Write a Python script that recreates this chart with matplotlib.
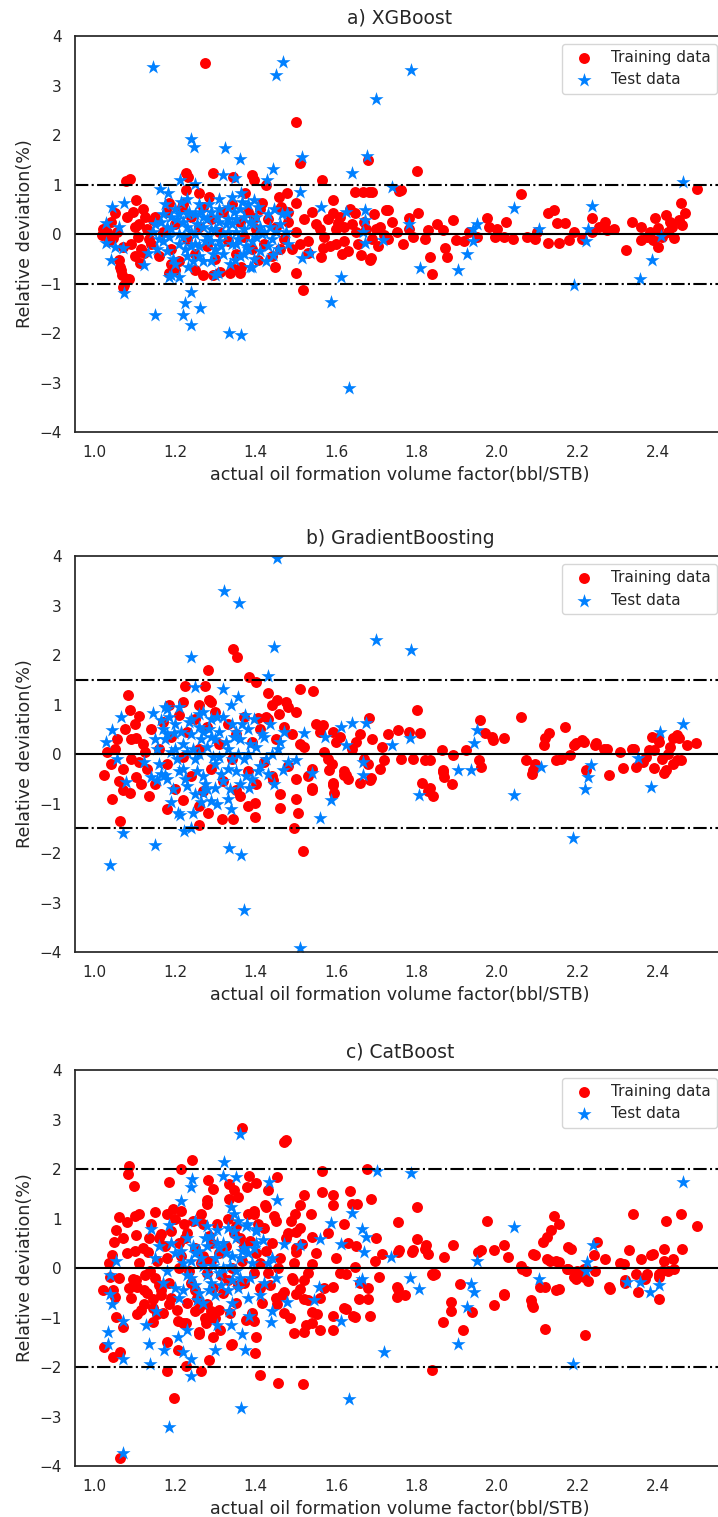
import matplotlib
matplotlib.use("Agg")
import matplotlib.pyplot as plt
import seaborn as sns

# ---------------------------------------------------------------- data
# (actual Bo, relative deviation %)
XGB_TRAIN = [
    (1.274, 3.45), (1.50, 2.27), (1.51, 1.43), (1.087, 1.11), (1.078, 1.08), (1.227, 1.23),
    (1.232, 1.15), (1.295, 1.23), (1.344, 1.15), (1.39, 1.19), (1.395, 1.09), (1.426, 0.99),
    (1.565, 1.1), (1.68, 1.49), (1.80, 1.28), (1.667, 0.85), (1.69, 0.85), (1.756, 0.88),
    (1.725, 0.49), (2.06, 0.8), (1.102, 0.69), (1.018, -0.02), (1.03, 0.05), (1.045, -0.08),
    (1.07, -0.26), (1.06, -0.53), (1.065, -0.73), (1.08, -0.9), (1.07, -1.06), (1.05, 0.42),
    (1.08, 0.35), (1.10, 0.15), (1.107, -0.05), (1.227, 0.89), (1.259, 0.82), (1.285, 0.75),
    (1.185, 0.62), (1.217, 0.55), (1.144, 0.28), (1.374, 0.82), (1.416, 0.62), (1.457, 0.75),
    (1.478, 0.82), (1.499, 0.62), (1.462, 0.55), (1.395, 0.32), (1.123, -0.39), (1.112, -0.59),
    (1.185, -0.79), (1.248, -0.73), (1.269, -0.83), (1.311, -0.76), (1.337, -0.79), (1.363, -0.66),
    (1.405, -0.53), (1.447, -0.66), (1.499, -0.79), (1.518, -1.13), (1.53, -0.39), (1.562, -0.46),
    (1.072, -1.03), (1.085, -0.9), (1.068, -0.83), (1.063, -0.67), (1.19, -0.6), (1.20, -0.73),
    (1.295, -0.83), (1.36, -0.79), (1.345, -0.7), (1.837, -0.81), (1.684, -0.52), (1.593, 0.69),
    (1.593, 0.42), (1.604, 0.22), (1.567, -0.29), (1.646, 0.86), (1.682, 0.86), (1.646, 0.42),
    (1.661, -0.42), (1.687, -0.49), (1.729, 0.48), (1.761, 0.89), (1.75, 0.05), (1.719, -0.02),
    (1.781, 0.32), (1.803, 0.42), (1.828, 0.08), (1.865, 0.08), (1.834, -0.46), (1.87, -0.29),
    (1.876, -0.46), (1.891, 0.28), (1.897, -0.12), (1.918, -0.15), (1.949, -0.05), (1.975, 0.32),
    (1.98, 0.15), (1.996, -0.05), (2.017, -0.05), (2.022, 0.25), (2.074, -0.05), (2.095, -0.09),
    (2.127, -0.19), (2.127, 0.42), (2.142, 0.48), (2.153, -0.19), (2.148, 0.22), (2.169, 0.22),
    (2.179, -0.12), (2.211, -0.09), (2.237, 0.32), (2.237, 0.05), (2.253, 0.15), (2.268, 0.25),
    (2.273, 0.08), (2.32, -0.32), (2.336, 0.25), (2.357, 0.15), (2.357, -0.12), (2.373, -0.05),
    (2.388, -0.12), (2.393, 0.32), (2.399, -0.26), (2.42, 0.38), (2.425, 0.05), (2.435, 0.15),
    (2.451, 0.28), (2.456, 0.62), (2.467, 0.42), (2.498, 0.92), (1.60, 0.1), (1.62, -0.15),
    (1.64, 0.2), (1.70, 0.1), (1.73, -0.1), (1.78, 0.1), (1.82, -0.1), (1.85, 0.2), (1.93, 0.05),
    (2.0, 0.1), (2.04, -0.1), (2.10, 0.05), (2.19, 0.05), (2.29, 0.1), (2.38, 0.05), (2.40, 0.12),
    (2.41, -0.05), (2.43, 0.25), (2.44, -0.08), (2.46, 0.18),
    (1.13, 0.1), (1.14, -0.2), (1.15, 0.35), (1.16, -0.45), (1.17, 0.05), (1.18, 0.45),
    (1.19, -0.3), (1.20, 0.2), (1.21, -0.55), (1.22, 0.6), (1.23, -0.1), (1.24, 0.35),
    (1.25, -0.4), (1.26, 0.15), (1.27, 0.55), (1.28, -0.25), (1.29, 0.3), (1.30, -0.5),
    (1.31, 0.05), (1.32, 0.45), (1.33, -0.15), (1.34, 0.6), (1.35, -0.4), (1.36, 0.25),
    (1.37, -0.05), (1.38, 0.45), (1.39, -0.3), (1.40, 0.1), (1.41, 0.5), (1.42, -0.2),
    (1.43, 0.3), (1.44, -0.45), (1.45, 0.15), (1.46, 0.5), (1.47, -0.1), (1.48, 0.25),
    (1.49, -0.3), (1.50, 0.05), (1.52, 0.3), (1.53, -0.15), (1.55, 0.2), (1.57, -0.05),
    (1.58, 0.3), (1.60, -0.2), (1.62, 0.15), (1.63, -0.35), (1.65, 0.05), (1.67, 0.25),
    (1.69, -0.1), (1.71, 0.15), (1.10, -0.45), (1.11, 0.2), (1.12, 0.5),
    (1.02, 0.1), (1.035, -0.15), (1.04, 0.25), (1.055, 0.05), (1.09, -0.2), (1.095, 0.45),
    (1.115, -0.3), (1.125, 0.35), (1.135, -0.1), (1.46, -0.3), (1.48, 0.45), (1.51, -0.2),
    (1.54, 0.45), (1.56, 0.1), (1.585, -0.25), (1.61, 0.35), (1.615, -0.4), (1.635, 0.5),
    (1.655, -0.2), (1.675, 0.1), (1.695, 0.4), (1.705, -0.25), (1.74, 0.25), (1.765, -0.2),
    (1.79, -0.05),
]
XGB_TEST = [
    (1.145, 3.38), (1.45, 3.21), (1.467, 3.47), (1.785, 3.31), (1.70, 2.73), (1.238, 1.93),
    (1.247, 1.76), (1.324, 1.73), (1.361, 1.51), (1.32, 1.19), (1.443, 1.31), (1.515, 1.55),
    (1.51, 0.85), (1.64, 1.24), (1.677, 1.58), (1.212, 1.09), (1.162, 0.92), (1.182, 0.82),
    (1.042, 0.55), (1.073, 0.62), (1.427, 1.09), (1.395, 0.69), (1.348, 1.13), (1.739, 0.96),
    (2.042, 0.52), (2.237, 0.57), (1.782, 0.2), (1.717, -0.11), (1.941, 0.11), (1.95, 0.2),
    (1.94, -0.13), (1.926, -0.4), (2.105, 0.11), (2.227, 0.11), (2.22, -0.14), (2.407, -0.04),
    (2.461, 1.06), (2.385, -0.52), (1.808, -0.69), (1.902, -0.73), (1.612, -0.87), (1.586, -1.37),
    (1.631, -3.12), (2.19, -1.03), (2.354, -0.9), (1.04, -0.52), (1.072, -1.2), (1.123, -0.63),
    (1.149, -1.64), (1.22, -1.64), (1.225, -1.4), (1.24, -1.17), (1.24, -1.84), (1.262, -1.5),
    (1.333, -1.99), (1.364, -2.04), (1.19, -0.83), (1.21, -0.86), (1.30, -0.82), (1.385, -0.67),
    (1.028, 0.22), (1.06, 0.15), (1.028, -0.19), (1.05, -0.26), (1.07, -0.29), (1.248, 1.02),
    (1.562, 0.55), (1.625, 0.45), (1.672, 0.48), (1.672, 0.28), (1.478, 0.42), (1.342, 0.75),
    (1.363, 0.82), (1.672, -0.19), (1.667, 0.05), (1.515, -0.49), (1.536, -0.39), (1.442, -0.42),
    (1.39, -0.66), (1.348, -0.53), (1.306, -0.79), (1.233, -0.66), (1.185, -0.86), (1.133, -0.39),
    (1.15, 0.2), (1.16, -0.1), (1.17, 0.4), (1.18, -0.35), (1.19, 0.1), (1.20, 0.5),
    (1.21, -0.2), (1.22, 0.25), (1.23, -0.45), (1.24, 0.05), (1.25, 0.4), (1.26, -0.25),
    (1.27, 0.15), (1.28, -0.05), (1.29, 0.45), (1.30, -0.3), (1.31, 0.25), (1.32, 0.0),
    (1.33, 0.55), (1.34, -0.2), (1.35, 0.3), (1.36, -0.45), (1.37, 0.1), (1.38, 0.6),
    (1.39, -0.15), (1.40, 0.35), (1.41, -0.35), (1.42, 0.05), (1.43, 0.4), (1.44, -0.1),
    (1.46, 0.2), (1.48, -0.2), (1.22, -0.05), (1.26, 0.6), (1.28, 0.3), (1.30, 0.1),
    (1.32, -0.4), (1.34, 0.2), (1.24, -0.25), (1.36, 0.5), (1.20, -0.6), (1.18, 0.15),
    (1.27, -0.55), (1.33, 0.3), (1.38, -0.3), (1.25, 0.0), (1.29, -0.15), (1.35, 0.05),
    (1.41, 0.15), (1.19, 0.35), (1.21, 0.0), (1.23, 0.15), (1.25, -0.2), (1.27, 0.35),
    (1.29, 0.1), (1.31, -0.15), (1.33, 0.05), (1.35, -0.2), (1.37, 0.35), (1.39, 0.2),
    (1.17, -0.15), (1.43, -0.25), (1.45, 0.05), (1.23, 0.4), (1.31, 0.5), (1.26, -0.45),
    (1.145, 0.05), (1.155, -0.3), (1.165, 0.25), (1.175, 0.6), (1.185, -0.05), (1.195, -0.5),
    (1.205, 0.3), (1.215, 0.65), (1.225, -0.3), (1.235, 0.45), (1.245, -0.55), (1.255, 0.2),
    (1.265, 0.45), (1.275, -0.15), (1.285, 0.6), (1.295, -0.4), (1.305, 0.35), (1.315, -0.25),
    (1.325, 0.2), (1.335, -0.6), (1.345, 0.45), (1.355, -0.1), (1.365, 0.65), (1.375, -0.25),
    (1.385, 0.25), (1.395, -0.5), (1.405, 0.55), (1.415, 0.0), (1.425, -0.55), (1.435, 0.15),
    (1.445, 0.5), (1.455, -0.3), (1.465, 0.4), (1.475, 0.05), (1.21, 0.4), (1.29, -0.55),
    (1.37, -0.4), (1.23, 0.7), (1.31, 0.7), (1.40, -0.05),
]

GB_TRAIN = [
    (1.344, 2.13), (1.353, 1.97), (1.282, 1.70), (1.384, 1.56), (1.401, 1.46), (1.225, 1.37),
    (1.274, 1.37), (1.43, 1.23), (1.51, 1.31), (1.543, 1.28), (1.453, 1.09), (1.475, 1.06),
    (1.083, 1.19), (1.088, 0.89), (1.111, 0.77), (1.185, 0.99), (1.288, 1.06), (1.80, 0.90),
    (2.059, 0.75), (1.957, 0.69), (2.17, 0.55), (2.13, 0.42), (2.118, 0.32), (2.016, 0.32),
    (1.987, 0.35), (1.97, 0.42), (2.21, 0.28), (2.192, 0.18), (2.243, 0.18), (2.266, 0.11),
    (2.306, 0.05), (2.335, 0.11), (2.386, 0.35), (2.403, 0.25), (2.437, 0.32), (2.446, 0.38),
    (2.494, 0.22), (2.391, 0.08), (2.425, 0.01), (2.448, -0.12), (2.37, -0.05), (1.754, 0.48),
    (1.822, -0.12), (1.862, 0.08), (1.89, -0.02), (2.073, -0.12), (2.147, -0.12), (2.18, -0.02),
    (2.09, -0.32), (2.277, -0.42), (2.312, -0.29), (2.221, -0.32), (1.024, -0.42), (1.043, -0.9),
    (1.062, -1.35), (1.071, -0.73), (1.088, -0.79), (1.103, -0.46), (1.18, -1.1), (1.22, -0.93),
    (1.259, -1.43), (1.282, -1.2), (1.316, -1.32), (1.344, -1.32), (1.352, -0.73), (1.398, -0.98),
    (1.399, -1.27), (1.46, -1.08), (1.495, -1.5), (1.506, -1.2), (1.517, -1.95), (1.541, -0.73),
    (1.591, -0.63), (1.595, -0.78), (1.62, -0.42), (1.66, -0.59), (1.683, -0.53), (1.813, -0.58),
    (1.828, -0.74), (1.84, -0.85), (1.865, -0.36), (1.868, -0.46), (1.888, -0.61), (1.959, -0.26),
    (2.086, -0.4), (2.344, -0.26), (2.414, -0.38), (2.391, -0.29), (2.437, -0.19), (1.102, 0.32),
    (1.259, 0.99), (1.285, 1.09), (1.499, 0.86), (1.457, 0.82), (1.426, 0.75), (1.405, 0.72),
    (1.567, 0.59), (1.593, 0.45), (1.682, 0.72), (1.781, 0.45), (1.808, 0.42), (1.713, 0.15),
    (1.719, -0.12), (1.761, -0.09), (1.792, -0.09), (1.834, -0.12), (1.923, 0.08), (1.954, -0.12),
    (1.991, 0.28), (2.116, 0.18), (2.158, -0.09), (2.195, 0.22), (2.216, 0.25), (2.247, 0.22),
    (2.273, 0.11), (2.341, 0.11), (2.362, -0.15), (2.378, 0.08), (2.399, 0.32), (2.42, -0.32),
    (2.43, 0.15), (2.451, 0.32), (2.456, -0.12), (2.472, 0.18), (2.409, -0.09), (1.834, -0.69),
    (1.865, -0.32), (2.095, -0.19), (1.541, -0.69), (1.593, -0.59), (1.625, -0.42), (1.687, -0.49),
    (1.583, -0.32), (1.442, -0.53),
    (1.12, 0.2), (1.13, -0.3), (1.14, 0.5), (1.15, -0.6), (1.16, 0.1), (1.17, 0.65),
    (1.18, -0.2), (1.19, 0.35), (1.20, -0.7), (1.21, 0.8), (1.22, -0.05), (1.23, 0.45),
    (1.24, -0.45), (1.25, 0.7), (1.26, 0.1), (1.27, -0.75), (1.28, 0.55), (1.29, -0.3),
    (1.30, 0.85), (1.31, 0.2), (1.32, -0.55), (1.33, 0.6), (1.34, -0.1), (1.35, 0.4),
    (1.36, -0.85), (1.37, 0.75), (1.38, -0.35), (1.39, 0.25), (1.40, -0.6), (1.41, 0.5),
    (1.42, -0.15), (1.43, 0.7), (1.44, -0.45), (1.45, 0.3), (1.46, -0.8), (1.47, 0.55),
    (1.48, -0.25), (1.49, 0.4), (1.50, -0.5), (1.52, 0.15), (1.54, -0.3), (1.56, 0.45),
    (1.58, -0.1), (1.60, 0.25), (1.62, -0.35), (1.64, 0.1), (1.66, 0.4), (1.68, -0.2),
    (1.05, 0.1), (1.07, -0.3), (1.09, 0.3), (1.11, -0.15),
    (1.03, 0.05), (1.04, -0.2), (1.055, 0.3), (1.06, -0.55), (1.075, 0.5), (1.09, -0.1),
    (1.10, 0.6), (1.115, -0.6), (1.125, 0.05), (1.135, -0.85), (1.51, 0.2), (1.53, -0.45),
    (1.55, 0.6), (1.57, 0.05), (1.59, -0.2), (1.61, 0.35), (1.63, -0.5), (1.65, 0.25),
    (1.67, -0.1), (1.69, 0.3), (1.71, -0.3), (1.73, 0.4), (1.50, -0.9), (1.48, 0.95),
    (1.44, 1.0), (1.38, -1.05), (1.26, -1.05), (1.22, 1.05),
]
GB_TEST = [
    (1.453, 3.97), (1.322, 3.30), (1.359, 3.06), (1.445, 2.17), (1.24, 1.97), (1.70, 2.30),
    (1.786, 2.10), (1.43, 1.58), (1.248, 1.36), (1.32, 1.31), (1.356, 1.16), (1.339, 0.99),
    (1.145, 0.84), (1.18, 0.92), (1.066, 0.75), (1.043, 0.48), (2.462, 0.61), (2.405, 0.44),
    (1.64, 0.63), (1.675, 0.62), (1.612, 0.54), (1.783, 0.32), (1.74, 0.18), (1.95, 0.48),
    (1.942, 0.22), (2.351, -0.07), (1.037, -2.24), (1.071, -1.59), (1.149, -1.84), (1.208, -1.2),
    (1.222, -1.55), (1.24, -1.5), (1.333, -1.89), (1.364, -2.03), (1.37, -3.16), (1.51, -3.91),
    (1.56, -1.3), (1.586, -0.93), (1.806, -0.83), (2.041, -0.83), (2.189, -1.7), (2.218, -0.71),
    (2.226, -0.46), (2.234, -0.22), (2.382, -0.66), (1.902, -0.32), (1.936, -0.32), (2.109, -0.26),
    (1.305, -1.0), (1.339, -1.1), (1.265, -0.96), (1.299, -0.69), (1.384, -0.69), (1.174, -0.42),
    (1.14, -0.46), (1.077, -0.56), (1.029, 0.25), (1.055, -0.09), (1.165, 0.69), (1.175, 0.96),
    (1.374, 0.79), (1.259, 0.82), (1.196, 0.42), (1.52, 0.42), (1.572, 0.35), (1.625, 0.18),
    (1.667, -0.15), (1.667, -0.42), (1.243, -1.2), (1.211, -1.23), (1.154, -0.53), (1.123, -0.15),
    (1.468, -0.32), (1.50, -0.12), (1.541, -0.39), (1.19, -0.96), (1.269, -0.79),
    (1.15, 0.3), (1.16, -0.2), (1.17, 0.5), (1.18, -0.5), (1.19, 0.05), (1.20, 0.6),
    (1.21, -0.35), (1.22, 0.2), (1.23, -0.65), (1.24, 0.4), (1.25, -0.1), (1.26, 0.55),
    (1.27, -0.45), (1.28, 0.15), (1.29, 0.7), (1.30, -0.2), (1.31, 0.45), (1.32, -0.55),
    (1.33, 0.1), (1.34, 0.6), (1.35, -0.35), (1.36, 0.3), (1.37, -0.1), (1.38, 0.5),
    (1.39, -0.5), (1.40, 0.15), (1.41, -0.25), (1.42, 0.35), (1.44, 0.0), (1.46, 0.25),
    (1.48, -0.15), (1.22, -0.3), (1.26, 0.0), (1.30, 0.3), (1.34, -0.1), (1.28, -0.7),
    (1.32, 0.75), (1.24, 0.7), (1.36, -0.6), (1.20, 0.1), (1.25, -0.8), (1.29, 0.35),
    (1.33, -0.3), (1.27, 0.45), (1.38, 0.0), (1.31, -0.05), (1.35, 0.45), (1.23, 0.05),
    (1.18, 0.4), (1.43, -0.4),
    (1.155, 0.1), (1.165, -0.4), (1.175, 0.3), (1.185, 0.75), (1.195, -0.7), (1.205, -0.1),
    (1.215, 0.45), (1.225, -0.5), (1.235, 0.65), (1.245, 0.1), (1.255, -0.35), (1.265, 0.3),
    (1.275, -0.6), (1.285, 0.5), (1.295, -0.05), (1.305, 0.75), (1.315, -0.4), (1.325, 0.25),
    (1.335, -0.7), (1.345, 0.35), (1.355, 0.0), (1.365, 0.6), (1.375, -0.45), (1.385, 0.2),
    (1.395, 0.7), (1.405, -0.35), (1.415, 0.4), (1.425, -0.1), (1.435, 0.6), (1.445, -0.6),
    (1.455, 0.1), (1.47, 0.45), (1.21, 0.95), (1.27, 0.85), (1.33, -0.9), (1.29, -0.95),
]

CAT_TRAIN = [
    (1.365, 2.83), (1.47, 2.55), (1.475, 2.59), (1.242, 2.19), (1.214, 2.01), (1.086, 2.07),
    (1.083, 1.91), (1.098, 1.66), (1.185, 1.74), (1.282, 1.77), (1.293, 1.6), (1.384, 1.87),
    (1.401, 1.72), (1.453, 1.84), (1.43, 1.57), (1.566, 1.96), (1.677, 2.01), (1.521, 1.47),
    (1.566, 1.54), (1.592, 1.47), (1.635, 1.56), (1.686, 1.4), (1.592, 1.27), (1.64, 1.29),
    (1.80, 1.23), (1.754, 0.94), (1.51, 1.27), (1.538, 1.1), (1.498, 1.1), (1.06, 1.03),
    (1.054, 0.76), (1.049, 0.53), (1.10, 1.06), (1.111, 1.1), (1.103, 0.66), (1.15, 1.13),
    (1.18, 1.1), (1.214, 1.16), (1.28, 1.37), (1.333, 1.7), (1.333, 1.4), (1.345, 1.57),
    (1.356, 1.43), (1.424, 1.27), (1.396, 1.16), (1.265, 1.1), (1.976, 0.96), (2.141, 1.06),
    (2.155, 0.9), (2.135, 0.76), (2.124, 0.63), (2.113, 0.53), (2.09, 0.29), (2.337, 1.1),
    (2.42, 0.96), (2.457, 1.1), (2.496, 0.85), (2.459, 0.39), (2.416, 0.39), (2.329, 0.36),
    (2.382, 0.26), (2.357, 0.19), (2.414, 0.15), (2.437, 0.19), (2.306, 0.1), (2.175, 0.42),
    (2.146, 0.15), (2.124, 0.19), (2.198, -0.05), (2.269, 0.19), (2.249, 0.53), (1.993, 0.36),
    (2.018, 0.46), (1.953, 0.32), (1.891, 0.46), (1.868, 0.22), (1.822, 0.39), (1.80, 0.59),
    (1.788, 0.32), (1.828, 0.29), (1.754, 0.32), (1.714, 0.29), (1.697, 0.15), (1.845, -0.11),
    (2.027, 0.22), (2.061, -0.01), (2.073, -0.05), (2.175, -0.01), (2.215, -0.18), (2.243, -0.05),
    (2.278, -0.38), (2.317, -0.25), (2.346, -0.11), (2.403, -0.11), (2.425, -0.05),
    (1.062, -3.83), (1.196, -2.62), (1.18, -2.07), (1.228, -1.97), (1.263, -2.07), (1.284, -1.85),
    (1.41, -2.17), (1.456, -2.32), (1.517, -2.35), (1.837, -2.05), (2.218, -1.36), (2.12, -1.23),
    (1.866, -1.09), (1.885, -0.69), (1.885, -0.86), (1.916, -1.26), (1.938, -0.89), (1.993, -0.75),
    (2.016, -0.52), (2.084, -0.65), (2.086, -0.75), (2.118, -0.38), (2.146, -0.44), (2.192, -0.18),
    (2.226, -0.26), (2.28, -0.42), (2.317, -0.3), (2.351, -0.48), (2.368, -0.22), (2.403, -0.62),
    (2.403, -0.18), (1.908, -0.32), (1.84, -0.15), (1.754, -0.42), (1.771, -0.55), (1.752, -0.59),
    (1.706, -0.18), (1.68, -0.62), (1.657, -0.62), (1.684, -0.96), (1.643, -0.96), (1.62, -0.8),
    (1.592, -0.96), (1.591, -1.26), (1.561, -1.26), (1.541, -0.89), (1.521, -1.29), (1.496, -1.31),
    (1.524, -1.15), (1.399, -1.72), (1.401, -1.39), (1.396, -1.06), (1.339, -1.56), (1.293, -1.39),
    (1.276, -1.12), (1.259, -1.29), (1.29, -0.86), (1.208, -1.06), (1.18, -1.5), (1.206, -1.65),
    (1.145, -1.09), (1.105, -0.92), (1.071, -1.19), (1.054, -0.99), (1.046, -1.8), (1.062, -1.7),
    (1.024, -1.6), (1.02, -0.45), (1.094, -0.22), (1.105, -0.38), (1.145, -0.62), (1.122, -0.45),
    (1.453, -0.72), (1.47, -0.48), (1.493, -0.25), (1.521, -0.62), (1.51, -0.42),
    (1.081, 0.93), (1.044, 0.26), (1.039, -0.18), (1.05, -0.59), (1.164, 0.69), (1.222, 0.9),
    (1.28, 1.3), (1.379, 1.64), (1.426, 1.23), (1.395, 1.1), (1.133, 0.32), (1.138, -0.05),
    (1.102, -0.25), (1.164, -0.45), (1.185, -0.72), (1.227, -1.12), (1.248, -0.86), (1.28, -0.72),
    (1.29, -0.99), (1.259, -1.33), (1.311, -1.26), (1.342, -1.53), (1.154, -0.92), (1.123, -0.72),
    (1.489, 0.96), (1.499, 0.73), (1.515, 0.49), (1.541, 0.63), (1.651, 1.3), (1.499, 0.32),
    (1.541, 0.09), (1.52, -0.25), (1.499, -0.52), (1.531, -0.65), (1.552, -0.92), (1.541, -1.12),
    (1.625, -0.82), (1.646, -0.99), (1.593, -0.38), (1.625, -0.11), (1.646, 0.02), (1.755, 0.36),
    (1.792, 0.36), (1.823, 0.46), (1.839, -0.11), (1.75, -0.38), (1.959, 0.36), (2.017, -0.55),
    (2.09, -0.79), (2.059, 0.05), (2.106, -0.38), (2.095, 0.26), (2.132, 0.15), (2.153, 0.12),
    (2.174, -0.01), (2.184, 0.39), (2.153, -0.42), (2.195, -0.22), (2.216, -0.01), (2.242, 0.26),
    (2.315, 0.09), (2.388, 0.29), (2.44, -0.01), (2.41, -0.05), (2.372, -0.11),
    (1.12, 0.4), (1.13, -0.5), (1.14, 0.9), (1.15, -0.2), (1.16, 0.6), (1.17, -0.9),
    (1.18, 0.2), (1.19, -0.6), (1.20, 1.0), (1.21, 0.0), (1.22, -1.1), (1.23, 0.7),
    (1.24, -0.3), (1.25, 0.4), (1.26, -0.8), (1.27, 0.9), (1.28, -0.1), (1.29, 0.5),
    (1.30, -1.0), (1.31, 0.3), (1.32, -0.5), (1.33, 1.0), (1.34, 0.0), (1.35, -0.7),
    (1.36, 0.6), (1.37, -0.3), (1.38, 1.1), (1.39, -0.9), (1.40, 0.3), (1.41, -0.4),
    (1.42, 0.8), (1.43, -0.1), (1.44, 0.5), (1.45, -0.6), (1.46, 0.2), (1.47, -0.9),
    (1.48, 0.7), (1.49, -0.2), (1.50, 0.4), (1.21, 0.5), (1.25, -0.45), (1.29, 0.15),
    (1.33, -0.25), (1.37, 0.45), (1.23, -0.7), (1.27, 0.25), (1.31, -0.85), (1.35, 0.85),
    (1.19, 0.75), (1.16, -0.35), (1.41, 0.1), (1.45, 0.95), (1.53, -0.1), (1.55, 0.3),
    (1.57, -0.4), (1.60, 0.2), (1.63, 0.5), (1.66, -0.3), (1.06, -0.2), (1.08, 0.3),
    (1.09, -0.6), (1.11, 0.1),
    (1.125, -0.15), (1.135, 0.6), (1.145, -0.8), (1.155, 0.15), (1.165, -0.55), (1.175, 0.45),
    (1.185, -0.3), (1.195, 1.2), (1.205, -0.85), (1.215, 0.25), (1.225, 0.6), (1.235, -0.05),
    (1.245, 0.95), (1.255, -0.6), (1.265, 0.1), (1.275, -1.0), (1.285, 0.65), (1.295, -0.4),
    (1.305, 0.9), (1.315, -0.15), (1.325, 0.45), (1.335, -0.9), (1.345, 0.7), (1.355, -0.35),
    (1.365, 0.15), (1.375, -1.05), (1.385, 0.55), (1.395, -0.1), (1.405, 0.9), (1.415, -0.7),
    (1.425, 0.35), (1.435, -0.35), (1.445, 1.05), (1.455, 0.0), (1.465, -0.55), (1.475, 0.6),
    (1.485, -1.0), (1.495, 0.1), (1.07, 0.6), (1.085, -0.4), (1.10, 0.35), (1.115, -0.85),
    (1.035, 0.1), (1.045, -0.45), (1.51, 0.8), (1.56, -0.6), (1.58, 0.7), (1.61, -0.1),
    (1.62, 0.9), (1.65, 0.45), (1.68, -0.4), (1.70, 0.6),
]
CAT_TEST = [
    (1.361, 2.7), (1.322, 2.14), (1.318, 1.87), (1.35, 1.84), (1.242, 1.8), (1.24, 1.64),
    (1.214, 1.35), (1.433, 1.74), (1.453, 1.38), (1.701, 1.96), (1.786, 1.92), (2.462, 1.74),
    (1.64, 1.11), (1.586, 0.92), (2.041, 0.83), (1.339, 1.23), (1.345, 1.1), (1.356, 0.96),
    (1.379, 0.9), (1.401, 0.79), (1.248, 0.96), (1.185, 0.86), (1.14, 0.79), (1.305, 0.76),
    (1.47, 0.49), (1.56, 0.59), (1.612, 0.49), (1.665, 0.79), (1.675, 0.63), (1.669, 0.32),
    (1.737, 0.22), (1.95, 0.15), (2.238, 0.46), (2.223, 0.12), (2.105, -0.22), (2.221, -0.05),
    (2.323, -0.28), (2.403, -0.35), (1.783, -0.2), (1.663, -0.22), (1.054, 0.15), (1.037, -0.15),
    (1.51, 0.46), (1.418, 0.56), (1.069, -3.74), (1.185, -3.21), (1.364, -2.82), (1.631, -2.64),
    (1.718, -1.7), (2.189, -1.93), (1.902, -1.53), (1.925, -0.79), (1.942, -0.48), (1.936, -0.32),
    (1.805, -0.42), (1.612, -1.06), (1.438, -1.09), (1.441, -0.86), (1.479, -0.69), (1.544, -0.65),
    (1.558, -0.38), (1.657, -0.28), (2.355, -0.28), (2.38, -0.48), (1.24, -2.19), (1.24, -1.83),
    (1.22, -1.7), (1.172, -1.66), (1.137, -1.93), (1.134, -1.53), (1.128, -1.16), (1.071, -1.83),
    (1.071, -1.06), (1.034, -1.53), (1.034, -1.29), (1.043, -0.72), (1.037, -0.52), (1.299, -1.66),
    (1.305, -1.16), (1.339, -1.16), (1.367, -1.33), (1.373, -1.66), (1.384, -0.96), (1.333, -0.86),
    (1.23, -1.26), (1.208, -1.39), (1.151, -0.86),
    (1.15, 0.2), (1.17, -0.3), (1.19, 0.5), (1.21, -0.6), (1.22, 0.1), (1.23, 0.6),
    (1.24, -0.2), (1.25, 0.3), (1.26, -0.5), (1.27, 0.05), (1.28, 0.45), (1.29, -0.3),
    (1.30, 0.2), (1.31, -0.1), (1.32, 0.5), (1.33, -0.45), (1.34, 0.25), (1.35, 0.6),
    (1.36, -0.2), (1.37, 0.4), (1.38, -0.6), (1.39, 0.1), (1.40, 0.5), (1.42, -0.3),
    (1.44, 0.2), (1.26, 0.35), (1.28, -0.15), (1.30, -0.55), (1.32, 0.0), (1.34, -0.25),
    (1.24, 0.15), (1.36, 0.2), (1.29, 0.65), (1.27, -0.7), (1.33, 0.8), (1.31, 0.4),
    (1.25, -0.35), (1.35, -0.05), (1.20, 0.3), (1.38, 0.3),
    (1.16, 0.45), (1.18, -0.05), (1.20, -0.4), (1.215, 0.35), (1.23, -0.15), (1.245, 0.45),
    (1.255, -0.65), (1.265, 0.2), (1.275, 0.6), (1.285, -0.45), (1.295, 0.05), (1.305, 0.5),
    (1.315, -0.35), (1.325, 0.3), (1.335, 0.05), (1.345, 0.75), (1.355, -0.4), (1.365, 0.35),
    (1.375, 0.85), (1.385, -0.2), (1.395, 0.4), (1.41, -0.55), (1.43, 0.1), (1.45, -0.2),
    (1.22, -0.45), (1.28, 0.85), (1.34, -0.7), (1.40, 0.75),
]

TITLES = ["a) XGBoost", "b) GradientBoosting", "c) CatBoost"]
LIMITS = [1.0, 1.5, 2.0]            # dash-dot bands, %
PANELS = [(XGB_TRAIN, XGB_TEST), (GB_TRAIN, GB_TEST), (CAT_TRAIN, CAT_TEST)]

# ---------------------------------------------------------------- render
sns.set_theme(style="white")
plt.rcParams["font.family"] = ["DejaVu Sans"]

fig = plt.figure(figsize=(7.18, 15.17), dpi=100)
bottoms = [0.7152, 0.3724, 0.0336]

for bottom, title, lim, (train, test) in zip(bottoms, TITLES, LIMITS, PANELS):
    ax = fig.add_axes([0.1045, bottom, 0.905, 0.261])
    tx, ty = zip(*train)
    sx, sy = zip(*test)
    ax.scatter(tx, ty, s=62, c="red", marker="o", linewidths=0, label="Training data")
    ax.scatter(sx, sy, s=115, c="#0080ff", marker="*", linewidths=0, label="Test data")
    ax.axhline(0, color="black", lw=1.5)
    ax.axhline(lim, color="black", lw=1.5, ls="-.")
    ax.axhline(-lim, color="black", lw=1.5, ls="-.")
    ax.set_xlim(0.951, 2.566)
    ax.set_ylim(-4, 4)
    ax.set_yticks(range(-4, 5))
    ax.set_xticks([1.0, 1.2, 1.4, 1.6, 1.8, 2.0, 2.2, 2.4])
    ax.set_title(title, fontsize=13.5, pad=9)
    ax.set_xlabel("actual oil formation volume factor(bbl/STB)", fontsize=12.6)
    ax.set_ylabel("Relative deviation(%)", fontsize=12.6)
    ax.legend(loc="upper right")

fig.savefig("out.png", dpi=100)
